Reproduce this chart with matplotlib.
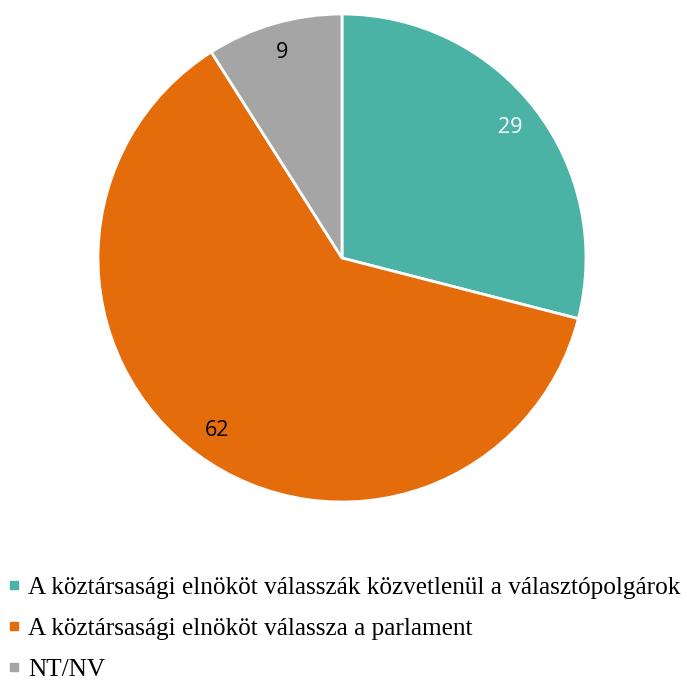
import matplotlib
matplotlib.use("Agg")
import matplotlib.pyplot as plt
from matplotlib.lines import Line2D

categories = ["A köztársasági elnököt válasszák közvetlenül a választópolgárok",
              "A köztársasági elnököt válassza a parlament",
              "NT/NV"]
values = [29, 62, 9]
colors = ["#4AB3A5", "#E46C0A", "#A5A5A5"]
label_colors = ["white", "black", "black"]

fig = plt.figure(figsize=(6.87, 6.81), dpi=100)
ax = fig.add_axes([342/687 - 244/687, 1 - (258 + 244)/681, 488/687, 488/681])
wedges, texts = ax.pie(values, colors=colors, startangle=90, counterclock=False,
                       labels=[str(v) for v in values], labeldistance=0.875,
                       wedgeprops=dict(edgecolor="white", linewidth=2))
for t, c in zip(texts, label_colors):
    t.set_color(c)
    t.set_fontsize(15.5)
    t.set_fontfamily("Open Sans")
    t.set_ha("center")
    t.set_va("center")
ax.set_xlim(-1, 1)
ax.set_ylim(-1, 1)
ax.set_aspect("equal")

handles = [Line2D([0], [0], marker="s", linestyle="none", markersize=6,
                  markerfacecolor=c, markeredgecolor=c) for c in colors]
fig.legend(handles, categories, loc="upper left", bbox_to_anchor=(0.0, 1 - 569/681),
           frameon=False, handlelength=0.5, handletextpad=0.3, labelspacing=0.72,
           borderaxespad=0, borderpad=0.3,
           prop=dict(family="Liberation Serif", size=18.2))
fig.savefig("out.png", dpi=100)
